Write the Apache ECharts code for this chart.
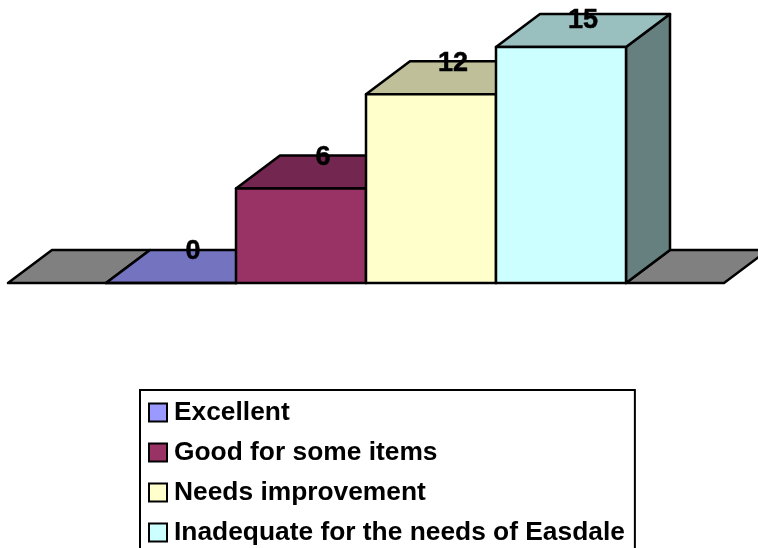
<!DOCTYPE html>
<html><head><meta charset="utf-8">
<style>html,body{margin:0;padding:0;background:#fff;overflow:hidden}#c{width:758px;height:548px}</style>
<script src="https://cdn.jsdelivr.net/npm/echarts@6/dist/echarts.min.js"></script>
</head><body><div id="c"></div>
<script>
const categories = ['Excellent', 'Good for some items', 'Needs improvement', 'Inadequate for the needs of Easdale'];
const values = [0, 6, 12, 15];
const frontColors = ['#9999FF', '#993366', '#FFFFCC', '#CCFFFF'];
const topColors = ['#7373BF', '#732650', '#BFBF99', '#99BFBF'];
const sideColors = ['#4D4D80', '#4D1A33', '#808066', '#668080'];
const floorSpans = [[-0.754, 0], [4, 4.754]];

const DX = 44, DY = -33, LW = 2.5;
const line = { stroke: '#000', lineWidth: LW, lineJoin: 'round' };
const poly = (pts, fill) => ({ type: 'polygon', shape: { points: pts }, style: Object.assign({ fill }, line) });

const chart = echarts.init(document.getElementById('c'), null, { renderer: 'canvas' });

const floorSeries = {
  type: 'custom', name: 'floor', silent: true, z: 1,
  data: floorSpans,
  renderItem(params, api) {
    const a = api.coord([api.value(0), 0]), b = api.coord([api.value(1), 0]);
    return poly([a, b, [b[0] + DX, b[1] + DY], [a[0] + DX, a[1] + DY]], '#808080');
  }
};

const barSeries = categories.map((name, i) => ({
  type: 'custom', name, silent: true, z: 2 + i,
  itemStyle: { color: frontColors[i] },
  data: [[i, values[i]]],
  renderItem(params, api) {
    const x = api.value(0), v = api.value(1);
    const bl = api.coord([x, 0]), br = api.coord([x + 1, 0]);
    const tl = api.coord([x, v]), tr = api.coord([x + 1, v]);
    const off = p => [p[0] + DX, p[1] + DY];
    return {
      type: 'group',
      children: [
        poly([br, tr, off(tr), off(br)], sideColors[i]),
        poly([tl, tr, off(tr), off(tl)], topColors[i]),
        poly([bl, br, tr, tl], frontColors[i]),
        {
          type: 'text', z2: 100,
          style: {
            text: String(v),
            x: (tl[0] + tr[0]) / 2 + DX / 2,
            y: Math.max(tl[1] + DY + 2, 21),
            align: 'center', verticalAlign: 'middle',
            font: 'bold 27px "Liberation Sans", Arial, sans-serif',
            fill: '#000', stroke: '#000', lineWidth: 0.5
          }
        }
      ]
    };
  }
}));

chart.setOption({
  animation: false,
  backgroundColor: '#fff',
  grid: { left: 106, top: 47, width: 520, height: 236, containLabel: false },
  xAxis: { type: 'value', min: 0, max: 4, show: false },
  yAxis: { type: 'value', min: 0, max: 15, show: false },
  legend: {
    show: true, type: 'plain', orient: 'vertical', left: 140, top: 390, height: 300,
    data: categories, selectedMode: false,
    icon: 'rect', itemWidth: 18, itemHeight: 18, itemGap: 9,
    padding: [7, 10, 10, 8],
    borderColor: '#000', borderWidth: 2, backgroundColor: '#fff',
    itemStyle: { borderColor: '#000', borderWidth: 2 },
    textStyle: { fontFamily: '"Liberation Sans", Arial, sans-serif', fontWeight: 'bold', fontSize: 26.35, color: '#000', lineHeight: 24, padding: [7, 0, 0, 2] }
  },
  series: [floorSeries].concat(barSeries)
});
</script></body></html>
